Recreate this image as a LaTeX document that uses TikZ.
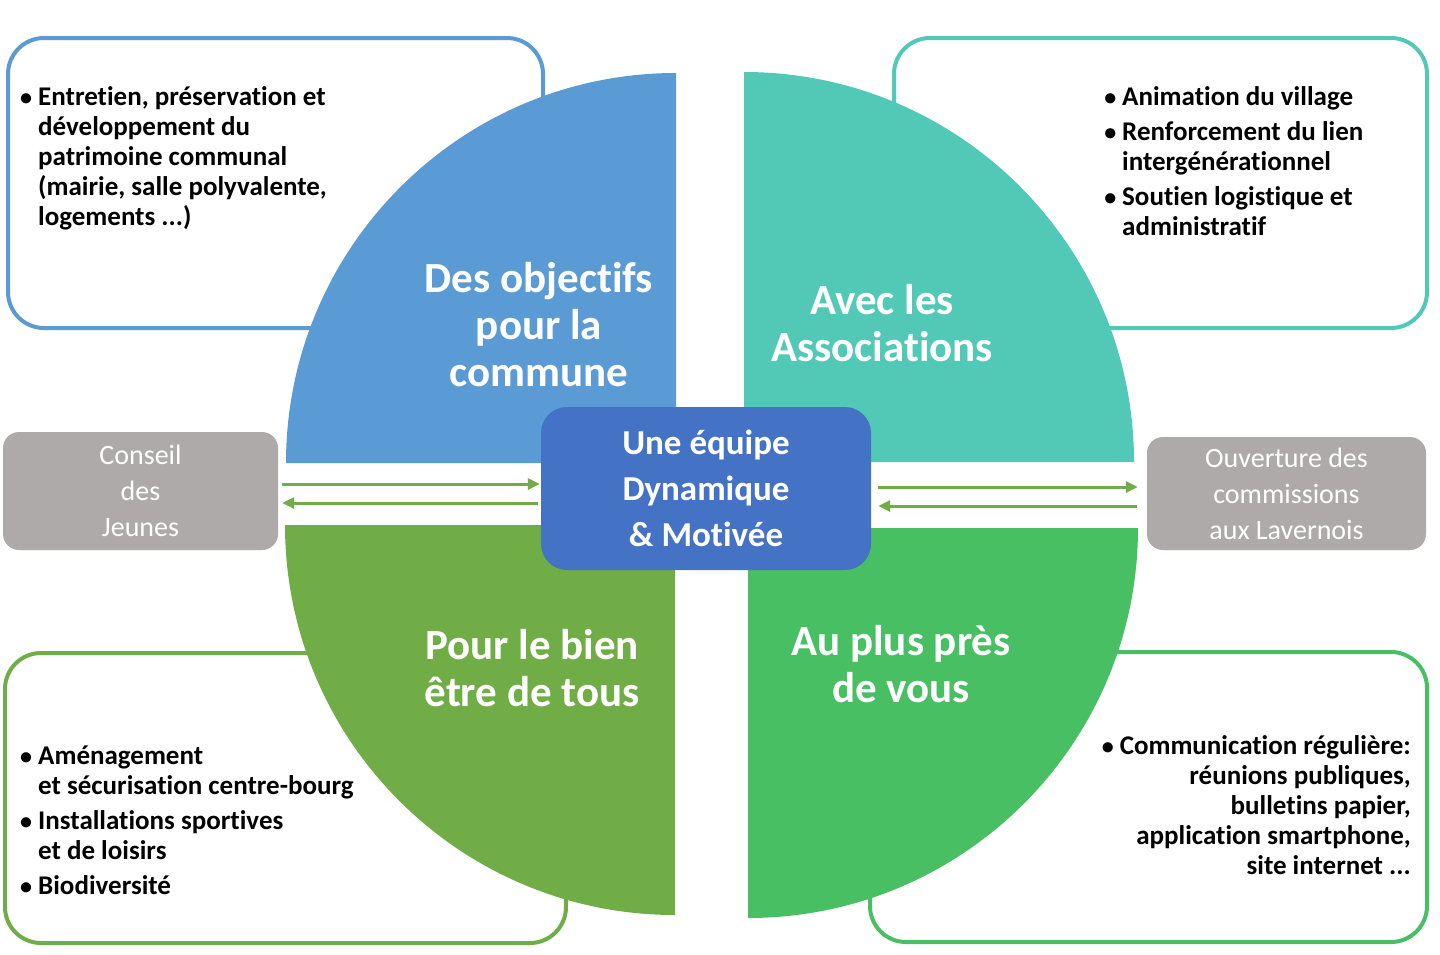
\documentclass[tikz,border=0pt]{standalone}
\usepackage{fontspec}
\setmainfont{Carlito}[Ligatures={NoCommon}]
\usetikzlibrary{arrows.meta}
\definecolor{qblue}{RGB}{91,155,213}
\definecolor{qteal}{RGB}{82,200,182}
\definecolor{qgreenL}{RGB}{112,173,71}
\definecolor{qgreenR}{RGB}{72,191,99}
\definecolor{cblue}{RGB}{68,114,196}
\definecolor{cgrey}{RGB}{174,170,170}
\tikzset{
  cbox/.style={draw, line width=4pt, rounded corners=36pt, fill=white, inner sep=0pt},
  gbox/.style={fill=cgrey, rounded corners=16pt, inner sep=0pt, text=white, align=center,
    font=\fontsize{28}{36}\selectfont},
  mbox/.style={fill=cblue, rounded corners=26pt, inner sep=0pt, text=white, align=center,
    font=\fontsize{35}{46}\selectfont\bfseries},
  title/.style={text=white, align=center, inner sep=0pt, font=\fontsize{43}{47}\selectfont\bfseries},
  body/.style={inner sep=0pt, font=\fontsize{27}{30}\selectfont\bfseries},
  arr/.style={draw=qgreenL, line width=3pt, -{Triangle[length=12pt,width=11pt]}}
}
\newcommand{\bulsym}{{\fontsize{24}{24}\selectfont\textbullet}}
\newcommand{\bul}{\llap{\bulsym\hspace{6pt}}}
\begin{document}
\begin{tikzpicture}[x=1pt,y=1pt]
\useasboundingbox (0,0) rectangle (1440,-954);
% corner boxes
\node[cbox, draw=qblue, minimum width=535pt, minimum height=290pt] (tlbox) at (275.5,-183) {};
\node[cbox, draw=qteal, minimum width=533pt, minimum height=290pt] (trbox) at (1160.5,-183) {};
\node[cbox, draw=qgreenL, minimum width=561pt, minimum height=290pt] (blbox) at (285.5,-798) {};
\node[cbox, draw=qgreenR, minimum width=557pt, minimum height=290pt] (brbox) at (1148.5,-797) {};
% quadrants
\fill[qblue] (676,-463) -- (286,-463) arc[start angle=180,end angle=90,radius=390pt] -- cycle;
\fill[qteal] (744,-462) -- (744,-72) arc[start angle=90,end angle=0,radius=390pt] -- cycle;
\fill[qgreenL] (675,-525) -- (285,-525) arc[start angle=180,end angle=270,radius=390pt] -- cycle;
\fill[qgreenR] (748,-528) -- (748,-918) arc[start angle=270,end angle=360,radius=390pt] -- cycle;
% titles
\node[title] (t1) at (539,-325) {Des objectifs\\pour la\\commune};
\node[title] (t2) at (882,-323) {Avec les\\Associations};
\node[title] (t3) at (532,-668) {Pour le bien\\être de tous};
\node[title] (t4) at (901,-664) {Au plus près\\de vous};
% body texts
\node[body, anchor=north west, align=left] (b1) at (38,-86) {\bul Entretien, préservation et\\développement du\\patrimoine communal\\(mairie, salle polyvalente,\\logements ...)};
\node[body, anchor=north west, align=left] (b2) at (1122,-86) {\bul Animation du village\\[5pt]\bul Renforcement du lien\\intergénérationnel\\[5pt]\bul Soutien logistique et\\administratif};
\node[body, anchor=north west, align=left] (b3) at (38,-746) {\bul Aménagement\\et sécurisation centre-bourg\\[5pt]\bul Installations sportives\\et de loisirs\\[5pt]\bul Biodiversité};
\node[body, anchor=north east, align=right] (b4) at (1411,-735) {\bulsym\hspace{6pt}Communication régulière:\\réunions publiques,\\bulletins papier,\\application smartphone,\\site internet ...};
% grey boxes
\node[gbox, minimum width=275pt, minimum height=118pt] (jeunes) at (140.5,-491) {Conseil\\des\\Jeunes};
\node[gbox, minimum width=279pt, minimum height=113pt] (ouv) at (1286.5,-493.5) {Ouverture des\\commissions\\aux Lavernois};
% centre
\node[mbox, minimum width=330pt, minimum height=163pt] (centre) at (706,-488.5) {Une équipe\\Dynamique\\\& Motivée};
% arrows
\draw[arr] ([shift={(4,7)}]jeunes.east) -- ([shift={(-1,4.5)}]centre.west);
\draw[arr] ([shift={(-3,-14.5)}]centre.west) -- ([shift={(4,-12)}]jeunes.east);
\draw[arr] ([shift={(7,1.5)}]centre.east) -- ([shift={(-9,6.5)}]ouv.west);
\draw[arr] ([shift={(-10,-12.5)}]ouv.west) -- ([shift={(7,-17.5)}]centre.east);
\end{tikzpicture}
\end{document}
